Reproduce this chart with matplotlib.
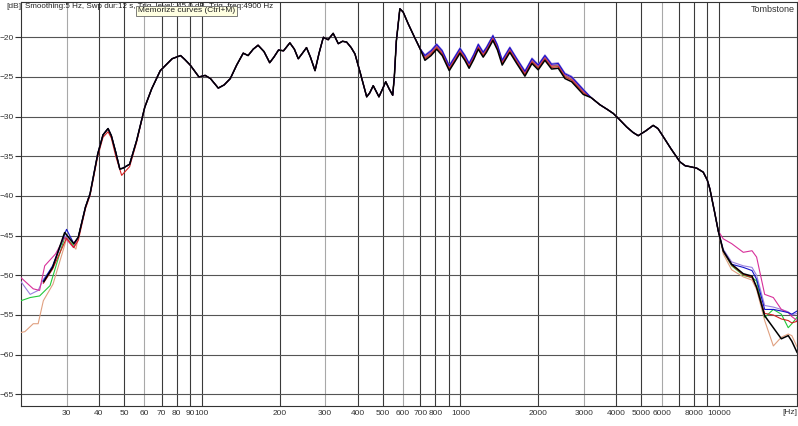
import numpy as np
import matplotlib.pyplot as plt

plt.rcParams['font.family'] = ['Liberation Sans Narrow', 'Liberation Sans', 'DejaVu Sans']

# shared middle part of the curves (Hz, dB)
base_freq = [33.3, 35.5, 37, 39.6, 41.5, 43.4, 44.7, 46.5, 48.2, 49.5, 52.6, 56, 60.2, 64, 69.1,
             76.8, 82.8, 86, 90.2, 97.5, 103, 108, 115.8, 122, 128.9, 136.4, 144.6, 151, 158,
             165, 174, 183, 190, 198, 207, 219, 228, 236, 245, 254, 263, 274, 284, 295, 308,
             322, 337, 350, 363, 378, 391, 410, 434, 446, 460, 472, 484, 500, 514, 530, 547,
             555, 565, 583, 600, 628, 660, 697, 729, 770, 809, 850, 905, 950, 996, 1040, 1080,
             1125, 1172, 1224, 1260, 1335, 1390, 1450, 1552, 1650, 1775, 1890, 1998, 2121,
             2250, 2388, 2535, 2690, 2850, 2984, 3200, 3460, 3700, 3897, 4100, 4390, 4650,
             4866, 5200, 5560, 5800, 5992, 6500, 7054, 7400, 7710, 8200, 8681, 9000, 9208,
             9600, 9921]
base_db = [-45.2, -41.4, -39.7, -34.7, -32.3, -31.5, -32.4, -34.5, -36.6, -36.5, -36.0, -33.0,
           -28.8, -26.5, -24.2, -22.7, -22.3, -22.8, -23.5, -25.0, -24.8, -25.2, -26.4, -26.0,
           -25.2, -23.5, -22.0, -22.3, -21.5, -21.0, -21.8, -23.2, -22.5, -21.6, -21.7, -20.7,
           -21.5, -22.7, -22.0, -21.3, -22.5, -24.2, -22.0, -20.0, -20.3, -19.5, -20.8, -20.5,
           -20.6, -21.3, -22.1, -24.5, -27.5, -27.0, -26.1, -26.8, -27.5, -26.5, -25.6, -26.5,
           -27.3, -25.0, -20.5, -16.4, -16.8, -18.3, -19.8, -21.4, -22.6, -22.0, -21.2, -22.0,
           -23.9, -22.8, -21.7, -22.6, -23.6, -22.5, -21.2, -22.2, -21.6, -20.1, -21.3, -23.2,
           -21.6, -23.0, -24.6, -23.0, -23.8, -22.6, -23.7, -23.6, -24.9, -25.3, -26.2, -26.9,
           -27.6, -28.5, -29.1, -29.6, -30.3, -31.3, -32.0, -32.4, -31.8, -31.1, -31.5, -32.2,
           -34.0, -35.7, -36.2, -36.3, -36.5, -37.0, -38.0, -39.1, -42.0, -44.4]

# low and high ends, one set per curve
colors = ['#e0a080', '#9a7fe0', '#22c83a', '#d8309a', '#d42020', '#1414c8', '#000000']

low_freq = {
    'orange': [20, 20.7, 22.3, 23.3, 24.4, 26.6, 30, 32.6],
    'purple': [20, 21.7, 23.3, 24.4, 26.5, 29.5, 32],
    'green': [20, 21.7, 23.6, 25.9, 27.5, 29.5, 32],
    'magenta': [20, 22.3, 23.6, 24.7, 27.2, 29.5, 31.9],
    'red': [24.4, 26.5, 30, 32, 33.3, 35.5, 37, 39.6, 41.5, 43.4, 44.7, 46.5, 49, 52.6, 56],
    'blue': [24.4, 26.5, 30, 32],
    'black': [24.5, 26.5, 29.5, 32],
}
low_db = {
    'orange': [-57.2, -57.1, -56.1, -56.1, -53.2, -51.1, -45.4, -46.7],
    'purple': [-50.8, -52.4, -51.9, -50.5, -49.0, -45.0, -46.0],
    'green': [-53.2, -52.8, -52.6, -51.3, -48.5, -45.2, -46.2],
    'magenta': [-50.3, -51.7, -51.9, -48.8, -47.3, -45.2, -46.5],
    'red': [-51.0, -49.2, -45.3, -46.5, -45.6, -41.6, -39.9, -35.0, -32.6, -31.9, -32.7,
            -35.0, -37.4, -36.3, -33.2],
    'blue': [-50.7, -48.8, -44.2, -46.0],
    'black': [-50.8, -49.0, -44.6, -46.0],
}
high_freq = [10373, 11175, 12400, 13400, 13960, 15000, 16200, 17400, 18500, 19100, 20000]
high_db = {
    'orange': [-47.3, -49.3, -50.2, -50.6, -51.8, -55.7, -58.9, -57.8, -57.4, -57.6, -59.0],
    'purple': [-46.7, -48.3, -48.8, -49.0, -50.0, -53.8, -54.0, -54.3, -54.6, -55.0, -54.8],
    'green': [-47.0, -48.8, -50.0, -50.3, -50.7, -55.3, -54.3, -54.9, -56.6, -56.1, -55.3],
    'magenta': [-45.4, -46.0, -47.1, -46.9, -47.7, -52.4, -52.8, -54.3, -54.7, -55.2, -55.7],
    'red': [-47.0, -48.7, -49.9, -50.3, -51.5, -54.8, -55.0, -55.5, -55.7, -56.0, -55.8],
    'blue': [-46.9, -48.6, -49.0, -49.4, -50.5, -54.3, -54.3, -54.5, -54.7, -54.9, -54.5],
    'black': [-46.9, -48.6, -49.8, -50.1, -51.5, -55.1, -56.6, -58.0, -57.6, -58.3, -59.7],
}
# spread of the curves between 700 Hz and 3 kHz
mid_offset = {'orange': 0.0, 'purple': 0.4, 'green': 0.1, 'magenta': 0.15,
              'red': -0.1, 'blue': 0.3, 'black': -0.3}

xticks = [30, 40, 50, 60, 70, 80, 90, 100, 200, 300, 400, 500, 600, 700, 800, 1000,
          2000, 3000, 4000, 5000, 6000, 8000, 10000]
yticks = [-20, -25, -30, -35, -40, -45, -50, -55, -60, -65]

fig = plt.figure(figsize=(7.98, 4.26), dpi=100)
ax = fig.add_axes([21 / 798, 20 / 426, 776 / 798, 404 / 426])
ax.set_xscale('log')
ax.set_xlim(20, 20000)
ax.set_ylim(-66.47, -15.55)

# grid
for dec in [10, 100, 1000, 10000]:
    for m in range(1, 10):
        f = dec * m
        if f <= 20 or f >= 20000:
            continue
        c = '#a8a8a8' if m in (3, 6) else '#3a3a3a'
        ax.axvline(f, color=c, lw=0.8, zorder=1)
for y in yticks:
    ax.axhline(y, color='#555555', lw=0.8, zorder=1)

bf = np.array(base_freq)
bd = np.array(base_db)
for name, col in zip(low_freq.keys(), colors):
    lf = np.array(low_freq[name])
    keep = bf > lf[-1]
    mid_f = bf[keep]
    mid_d = bd[keep] + np.where((mid_f >= 700) & (mid_f <= 3000), mid_offset[name], 0)
    f = np.concatenate([lf, mid_f, high_freq])
    d = np.concatenate([low_db[name], mid_d, high_db[name]])
    ax.plot(f, d, color=col, lw=0.8 if name != 'black' else 1.1, zorder=3)

ax.set_xticks(xticks)
ax.set_xticklabels([str(t) for t in xticks])
ax.xaxis.set_minor_locator(plt.NullLocator())
ax.set_yticks(yticks)
ax.tick_params(axis='both', labelsize=6, colors='#333333', length=0, pad=3)
ax.tick_params(axis='y', length=4, direction='out', color='#333333', pad=1)
for s in ax.spines.values():
    s.set_color('#333333')
    s.set_linewidth(0.8)

fig.text(6 / 798, 1 - 7 / 426, '[dB]', fontsize=6, va='center', color='#333333')
fig.text(797 / 798, 1 - 413 / 426, '[Hz]', fontsize=6, va='center', ha='right',
         color='#333333')
fig.text(795 / 798, 1 - 10 / 426, 'Tombstone', fontsize=6.5, va='center', ha='right',
         color='#333333')
fig.text(25 / 798, 1 - 7 / 426,
         'Smoothing:5 Hz, Swp dur:12 s, Trig. level:-45.0 dB, Trig. freq:4900 Hz',
         fontsize=5.8, va='center', color='#222222')
fig.text(138 / 798, 1 - 11 / 426, 'Memorize curves (Ctrl+M)', fontsize=6, va='center',
         color='#222222',
         bbox=dict(boxstyle='square,pad=0.2', fc='#ffffe1', ec='#666666', lw=0.6))

fig.savefig('out.png', dpi=100, facecolor='white')
